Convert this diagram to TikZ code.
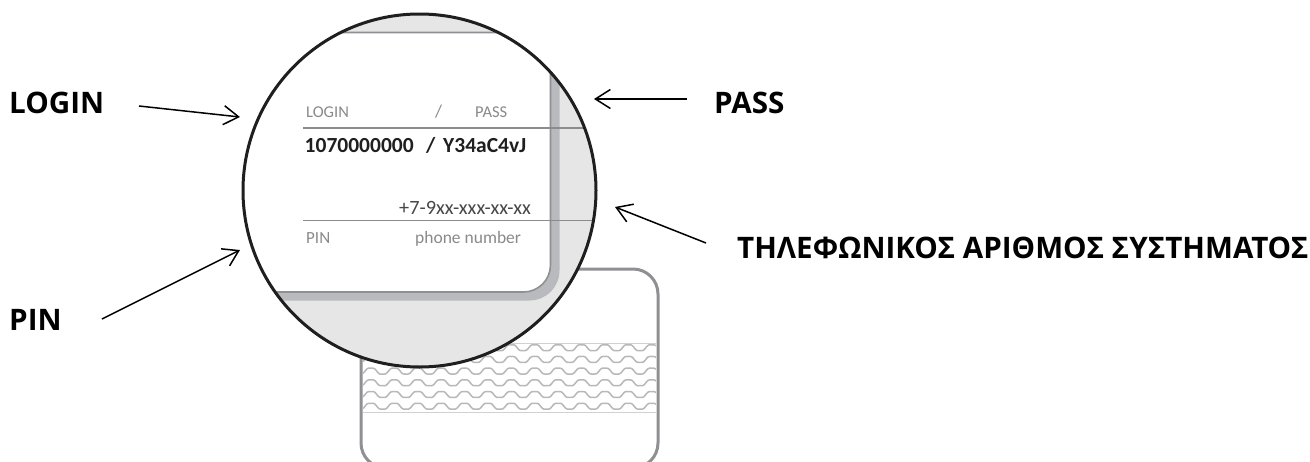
\documentclass[tikz,border=0pt]{standalone}
\usepackage{fontspec}
\setmainfont{Open Sans}
\newfontfamily\cardfont{Carlito}
\usetikzlibrary{arrows.meta}
\definecolor{lensfill}{HTML}{E6E6E6}
\definecolor{bandgrey}{HTML}{B9BABD}
\definecolor{edgegrey}{HTML}{8F9093}
\definecolor{cardtext}{HTML}{8A8A8A}
\tikzset{
  callout/.style={draw=black,line width=1.5pt,-{Straight Barb[length=15pt,width=19pt,line width=1.5pt]}},
  biglabel/.style={anchor=base west,inner sep=0pt,font=\fontsize{29.6}{33}\selectfont\bfseries},
  thinlabel/.style={anchor=base west,inner sep=0pt,text=cardtext,font=\cardfont\fontsize{16.5}{20}\selectfont},
  numlabel/.style={anchor=base west,inner sep=0pt,text=black!88,font=\cardfont\fontsize{21.5}{24}\selectfont\bfseries},
  wave/.style={draw=black!28,line width=1.5pt},
  rule/.style={draw=black!45,line width=1.7pt}
}
\begin{document}
\begin{tikzpicture}[x=1pt,y=-1pt]
\useasboundingbox (0,0) rectangle (1310,461);
% back card
\begin{scope}
\clip (0,0) rectangle (1310,461);
\draw[draw=edgegrey,line width=3pt,fill=white,rounded corners=25pt] (361,269) rectangle (658,468);
\begin{scope}
\clip (363,343) rectangle (656,413);
\foreach \r in {0,...,7}{
  \draw[wave] plot[domain=363:656,samples=220] (\x,{336+\r*11.7+3.4*(cos((\x-523)*15.385)-0.15*cos((\x-523)*46.155))});
}
\draw[draw=black!18,line width=1.4pt] (363,343.6) -- (656,343.6) (363,412.6) -- (656,412.6);
\end{scope}
\end{scope}
% lens
\coordinate (lenscentre) at (419.5,190.5);
\begin{scope}
\clip (lenscentre) circle[radius=176.5pt];
\fill[lensfill] (200,0) rectangle (620,380);
\fill[bandgrey,rounded corners=30pt] (150,40) rectangle (559.5,300.5);
\draw[draw=edgegrey,line width=1.6pt,fill=white,rounded corners=27pt] (150,32.5) rectangle (550.5,292);
\draw[rule] (303,128) -- (610,128);
\draw[rule] (303,220.5) -- (610,220.5);
\end{scope}
\draw[draw=black!88,line width=3pt] (lenscentre) circle[radius=176.5pt];
% card texts
\node[thinlabel] (tlogin) at (306,117) {LOGIN};
\node[thinlabel,font=\cardfont\fontsize{18}{20}\selectfont] (tslash) at (435,117) {/};
\node[thinlabel] (tpass) at (475,117) {PASS};
\node[numlabel] (tnum) at (304.5,152) {1070000000};
\node[numlabel] (tslashb) at (426,152) {/};
\node[numlabel] (tcode) at (443,152) {Y34aC4vJ};
\node[thinlabel,font=\cardfont\fontsize{20.3}{24}\selectfont,text=black!72] (tphone) at (399,214) {+7-9xx-xxx-xx-xx};
\node[thinlabel,font=\cardfont\fontsize{17}{20}\selectfont] (tpin) at (306,243) {PIN};
\node[thinlabel,font=\cardfont\fontsize{17.5}{20}\selectfont] (tphl) at (415,243) {phone number};
% outer labels
\node[biglabel] (login) at (9,113) {LOGIN};
\node[biglabel] (pin) at (9,330) {PIN};
\node[biglabel] (pass) at (714,113) {PASS};
\node[biglabel] (phone) at (737,258) {ΤΗΛΕΦΩΝΙΚΟΣ ΑΡΙΘΜΟΣ ΣΥΣΤΗΜΑΤΟΣ};
% callouts
\coordinate (loginA) at (139,106);
\coordinate (loginB) at (240,117);
\coordinate (pinA) at (102,319);
\coordinate (pinB) at (240,250);
\coordinate (passA) at (687,99);
\coordinate (passB) at (594,99);
\coordinate (phoneA) at (706,243);
\coordinate (phoneB) at (615,207);
\draw[callout] (loginA) -- (loginB);
\draw[callout] (pinA) -- (pinB);
\draw[callout] (passA) -- (passB);
\draw[callout] (phoneA) -- (phoneB);
\end{tikzpicture}
\end{document}
